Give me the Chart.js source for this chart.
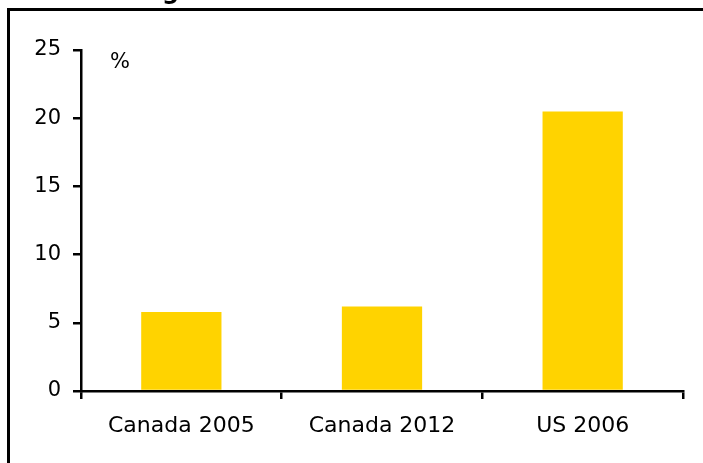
<!DOCTYPE html>
<html>
<head>
<meta charset="utf-8">
<script src="https://cdn.jsdelivr.net/npm/chart.js@4/dist/chart.umd.min.js"></script>
<style>
  html, body { margin: 0; padding: 0; background: #fff; overflow: hidden; }
  #wrap { position: relative; width: 703px; height: 463px; }
  #frame { position: absolute; left: 7px; top: 8px; width: 800px; height: 600px;
           border: 3px solid #000; box-sizing: border-box; }
  #chart { position: absolute; left: 0; top: 0; }
</style>
</head>
<body>
<div id="wrap">
  <div id="frame"></div>
  <canvas id="chart" width="703" height="463"></canvas>
</div>
<script>
// values
const categories = ['Canada 2005', 'Canada 2012', 'US 2006'];
const shares = [5.8, 6.2, 20.5];
const yTicks = [0, 5, 10, 15, 20, 25];

const FONT = '"DejaVu Sans", Verdana, sans-serif';

// "%" unit label and the clipped title descender above the frame
const extraText = {
    id: 'extraText',
    afterDraw(chart) {
        const ctx = chart.ctx;
        const area = chart.chartArea;
        ctx.save();
        ctx.fillStyle = '#000';
        ctx.textBaseline = 'alphabetic';
        ctx.font = '21px ' + FONT;
        ctx.fillText('%', area.left + 29, area.top + 18);
        ctx.font = 'bold 24px ' + FONT;
        ctx.fillText('g', 162, -1);
        ctx.restore();
    }
};

new Chart(document.getElementById('chart').getContext('2d'), {
    type: 'bar',
    data: {
        labels: categories,
        datasets: [{
            data: shares,
            backgroundColor: 'rgb(255,211,0)',
            borderWidth: 0,
            barPercentage: 0.4,
            categoryPercentage: 1.0
        }]
    },
    options: {
        responsive: false,
        animation: false,
        layout: { padding: { top: 50, right: 20, left: 0, bottom: 0 } },
        plugins: { legend: { display: false }, tooltip: { enabled: false }, title: { display: false } },
        scales: {
            x: {
                grid: { drawOnChartArea: false, color: '#000', lineWidth: 2.5, tickLength: 8, offset: true },
                border: { color: '#000', width: 2.5 },
                ticks: { color: '#000', font: { family: FONT, size: 22 }, padding: 14, maxRotation: 0 },
                afterFit(scale) { scale.height = 72; }
            },
            y: {
                min: 0,
                max: 25,
                afterBuildTicks(scale) { scale.ticks = yTicks.map(v => ({ value: v })); },
                grid: { drawOnChartArea: false, color: '#000', lineWidth: 2.5, tickLength: 8 },
                border: { color: '#000', width: 2.5 },
                ticks: { color: '#000', font: { family: FONT, size: 21 }, padding: 12 },
                afterFit(scale) { scale.width = 81; }
            }
        }
    },
    plugins: [extraText]
});
</script>
</body>
</html>
